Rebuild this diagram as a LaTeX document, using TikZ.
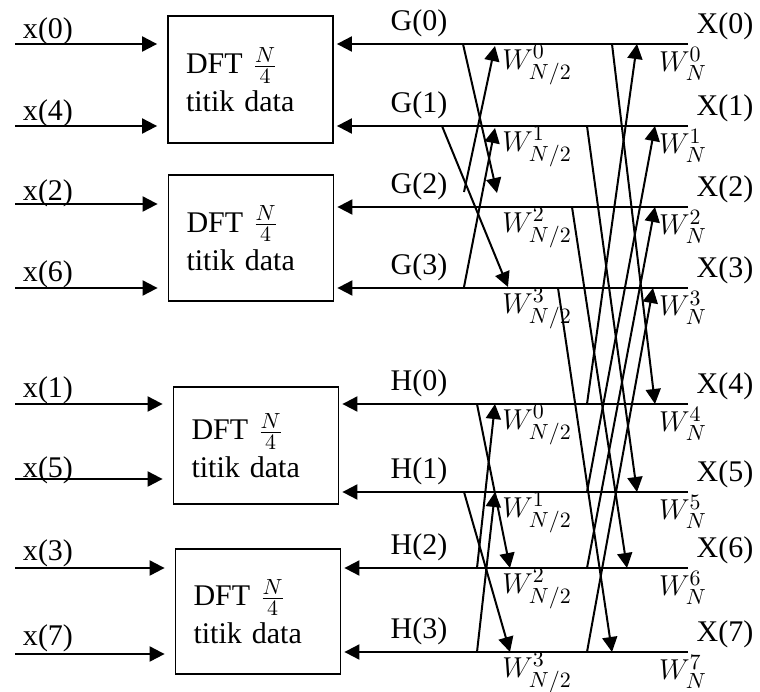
\documentclass[tikz,border=0pt]{standalone}
\usepackage{amsmath}
\usepackage{fontspec}
\setmainfont{Liberation Serif}
\usetikzlibrary{positioning,arrows.meta}

\begin{document}
\begin{tikzpicture}[x=0.5pt,y=-0.5pt,line width=1pt,font=\fontsize{15}{18}\selectfont,
  sig/.style={-{Triangle[length=7.5pt,width=7.5pt]}},
  dftbox/.style={draw,line width=0.9pt,text width=64.5pt,inner xsep=9pt,align=left}]
\useasboundingbox (0,0) rectangle (760,691);
\node[dftbox,minimum height=63.5pt] (b1) at (250.5,79.5) {DFT $\frac{N}{4}$\\[1pt]titik data};
\node[dftbox,minimum height=63pt] (b2) at (251,238) {DFT $\frac{N}{4}$\\[1pt]titik data};
\node[dftbox,minimum height=58.5pt] (b3) at (256,445.5) {DFT $\frac{N}{4}$\\[1pt]titik data};
\node[dftbox,minimum height=62.5pt] (b4) at (258,611.5) {DFT $\frac{N}{4}$\\[1pt]titik data};
\foreach \n/\yy/\ly/\bx in {0/44/31/b1,4/126/113/b1,2/204/193/b2,6/288/274/b2,1/404/390/b3,5/479/470/b3,3/568/553/b4,7/654/638/b4}{
  \coordinate (in\n) at (15,\yy);
  \node[anchor=west,inner sep=0pt] (lx\n) at (22,\ly) {x(\n)};
  \draw[sig,shorten >=5pt] (in\n) -- (in\n -| \bx.west);
}
\foreach \n/\yy/\gl/\k/\bx in {0/44/G/0/b1,1/126/G/1/b1,2/207/G/2/b2,3/288/G/3/b2,4/404/H/0/b3,5/492/H/1/b3,6/568/H/2/b4,7/652/H/3/b4}{
  \coordinate (r\n) at (688,\yy);
  \draw[sig,shorten >=1.5pt] (r\n) -- (r\n -| \bx.east);
  \node (gh\n) at (419,\yy-21) {\gl(\k)};
  \node (xo\n) at (725,\yy-18) {X(\n)};
  \node (wn\n) at (683,\yy+20) {$W_N^{\n}$};
  \node (wh\n) at (537,\yy+21) {$W_{N/2}^{\k}$};
}
\foreach \i/\ax/\ay/\bx/\by in {1/463/44/497/193,2/464/192/495/46,3/442/126/508/287,4/464/287/495/128,
  5/477/404/510/568,6/477/568/495/404,7/464/492/510/652,8/477/652/495/492,
  9/612/44/655/404,10/587/126/637/492,11/572/207/627/568,12/558/288/612/652,
  13/587/404/637/44,14/587/492/655/126,15/587/568/655/207,16/587/652/653/288}{
  \coordinate (s\i) at (\ax,\ay);
  \coordinate (t\i) at (\bx,\by);
  \draw[sig] (s\i) -- (t\i);
}
\end{tikzpicture}
\end{document}
